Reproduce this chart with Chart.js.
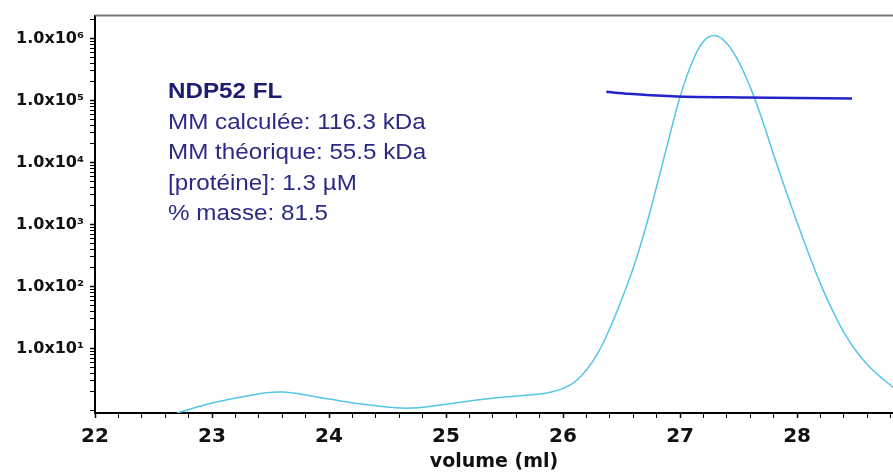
<!DOCTYPE html>
<html>
<head>
<meta charset="utf-8">
<script src="https://cdn.jsdelivr.net/npm/chart.js@4/dist/chart.umd.min.js"></script>
<style>
  html, body { margin: 0; padding: 0; background: #fff; }
  #wrap { width: 893px; height: 473px; }
</style>
</head>
<body>
<div id="wrap"><canvas id="graficoSec"></canvas></div>
<script>
// signal (volume ml, relative units) - light blue trace
const volSignal = [22.7, 23.0, 23.3, 23.6, 24.0, 24.3, 24.66, 25.0, 25.2, 25.5, 25.8, 25.9, 26.0, 26.1,
                   26.2, 26.3, 26.4, 26.5, 26.6, 26.7, 26.8, 26.9, 27.0, 27.1, 27.2, 27.3,
                   27.4, 27.5, 27.6, 27.7, 27.8, 27.9, 28.0, 28.1, 28.2, 28.3, 28.4, 28.5,
                   28.6, 28.7, 28.82];
const signal = [0, 2.5, 4.3, 5.3, 3.5, 2.2, 1.2, 2.2, 3.0, 4.0, 4.8, 5.3, 6.2, 7.8,
                10.8, 15.2, 21.3, 28.5, 36.5, 46, 57, 68.5, 79.5, 88, 93.5, 95,
                93, 88.5, 82, 74, 65, 56.3, 48, 40, 32.5, 26, 20.3, 15.8,
                12.2, 9.4, 6.5];

// masse molaire (g/mol) - blue line
const volMasse = [26.37, 26.56, 26.97, 27.56, 28.0, 28.47];
const masse = [138000, 128000, 116000, 112000, 110000, 108000];

// axes
const xMajor = [22, 23, 24, 25, 26, 27, 28];
const yMajor = [1e1, 1e2, 1e3, 1e4, 1e5, 1e6];
const yLabels = ['1.0x10¹', '1.0x10²', '1.0x10³', '1.0x10⁴', '1.0x10⁵', '1.0x10⁶'];

const infoLines = ['NDP52 FL', 'MM calculée: 116.3 kDa', 'MM théorique: 55.5 kDa',
                   '[protéine]: 1.3 µM', '% masse: 81.5'];

// ticks menores
const xTicks = [];
xMajor.forEach(v => { for (let k = 0; k < 5; k++) xTicks.push(Math.round((v + k * 0.2) * 10) / 10); });
xTicks.push(28.8);
const yTicks = [];
for (let e = 0; e <= 6; e++) for (let m = 1; m <= 9; m++) { const v = m * Math.pow(10, e); if (v <= 2.3e6) yTicks.push(v); }

const textoPlugin = {
    id: 'texto',
    afterDraw(chart) {
        const ctx = chart.ctx, a = chart.chartArea;
        ctx.save();
        // borda superior
        ctx.strokeStyle = '#7a7a7a';
        ctx.lineWidth = 2;
        ctx.beginPath();
        ctx.moveTo(a.left, a.top);
        ctx.lineTo(a.right, a.top);
        ctx.stroke();
        ctx.textBaseline = 'alphabetic';
        infoLines.forEach((t, i) => {
            ctx.save();
            ctx.translate(168, 98 + i * 30.5);
            ctx.scale(1.1, 1);
            ctx.font = (i === 0 ? 'bold ' : '') + '22px "Liberation Sans", Arial, sans-serif';
            ctx.fillStyle = i === 0 ? '#1c1c70' : '#2b2b85';
            ctx.fillText(t, 0, 0);
            ctx.restore();
        });
        ctx.restore();
    }
};

new Chart(document.getElementById('graficoSec'), {
    type: 'line',
    data: {
        datasets: [{
            label: 'Masse molaire',
            data: volMasse.map((x, i) => ({ x: x, y: masse[i] })),
            borderColor: '#2323cc',
            borderWidth: 2.5,
            pointRadius: 0,
            tension: 0.3,
            yAxisID: 'y',
            order: 1
        }, {
            label: 'Signal',
            data: volSignal.map((x, i) => ({ x: x, y: signal[i] })),
            borderColor: '#56c6e6',
            borderWidth: 1.5,
            pointRadius: 0,
            tension: 0.4,
            yAxisID: 'y2',
            order: 2
        }]
    },
    options: {
        responsive: true,
        maintainAspectRatio: false,
        animation: false,
        layout: { padding: { top: 13, left: 0, right: 0, bottom: 0 } },
        plugins: { legend: { display: false }, tooltip: { enabled: false } },
        scales: {
            x: {
                type: 'linear',
                min: 22,
                max: 28.82,
                afterBuildTicks: s => { s.ticks = xTicks.map(v => ({ value: v })); },
                afterFit: s => { s.height = 60; s.paddingRight = 0; },
                grid: {
                    drawOnChartArea: false,
                    tickLength: 5,
                    color: '#000',
                    tickWidth: c => xMajor.includes(c.tick && c.tick.value) ? 1.5 : 1
                },
                border: { color: '#000', width: 2 },
                ticks: {
                    autoSkip: false,
                    maxRotation: 0,
                    padding: 7,
                    color: '#111',
                    font: { family: 'DejaVu Sans', weight: 'bold', size: 20 },
                    callback: v => xMajor.includes(v) ? String(v) : ''
                },
                title: {
                    display: true,
                    text: 'volume (ml)',
                    color: '#111',
                    padding: { top: 2, bottom: 0 },
                    font: { family: 'DejaVu Sans', weight: 'bold', size: 19 }
                }
            },
            y: {
                type: 'logarithmic',
                min: 0.9085,
                max: 2.337e6,
                afterBuildTicks: s => { s.ticks = yTicks.map(v => ({ value: v })); },
                afterFit: s => { s.width = 95; },
                grid: {
                    drawOnChartArea: false,
                    tickLength: 5,
                    color: '#000',
                    tickWidth: c => yMajor.includes(c.tick && c.tick.value) ? 1.5 : 1
                },
                border: { color: '#000', width: 2 },
                ticks: {
                    autoSkip: false,
                    padding: 6,
                    color: '#111',
                    font: { family: 'DejaVu Sans', weight: 'bold', size: 16 },
                    callback: v => { const i = yMajor.indexOf(v); return i >= 0 ? yLabels[i] : ''; }
                }
            },
            y2: {
                type: 'linear',
                display: false,
                min: 0,
                max: 100
            }
        }
    },
    plugins: [textoPlugin]
});
</script>
</body>
</html>
